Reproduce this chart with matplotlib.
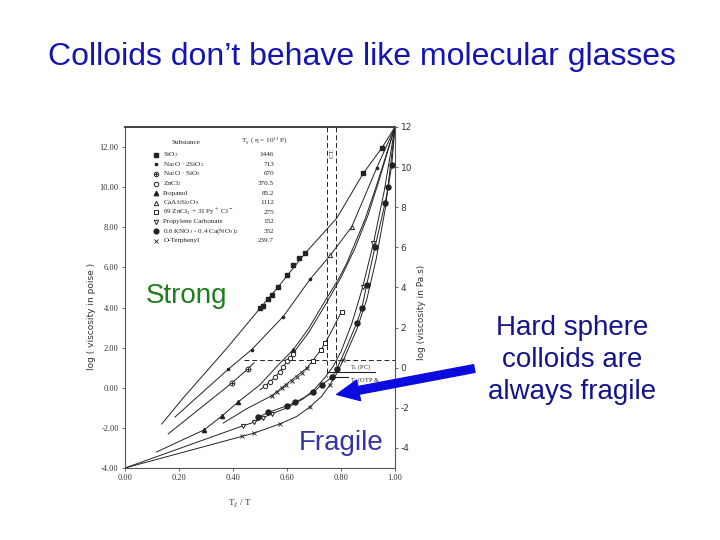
"""
Angell-plot slide: colloids vs molecular glasses (strong / fragile).
Writes out.png (720x540).
"""

import matplotlib.pyplot as plt
from matplotlib.patches import FancyArrowPatch

plt.rcParams["mathtext.fontset"] = "stix"

# ---- data: x = Tg/T, y = log10(viscosity / poise) ----
SIO2_LINE_X = [0.136, 0.216, 0.377, 0.50, 0.568, 0.667, 0.784, 0.883, 0.951, 1.0]
SIO2_LINE_Y = [-1.81, -0.5, 1.97, 3.96, 5.04, 6.7, 8.45, 10.7, 11.95, 13.0]
SIO2_PTS_X = [0.50, 0.512, 0.531, 0.543, 0.568, 0.60, 0.623, 0.646, 0.667, 0.883, 0.951]
SIO2_PTS_Y = [3.96, 4.08, 4.41, 4.63, 5.04, 5.6, 6.12, 6.45, 6.7, 10.7, 11.95]

NS2_LINE_X = [0.185, 0.383, 0.469, 0.586, 0.685, 0.76, 0.84, 0.932, 1.0]
NS2_LINE_Y = [-1.46, 0.93, 1.9, 3.55, 5.4, 6.6, 8.03, 10.95, 13.0]
NS2_PTS_X = [0.383, 0.469, 0.586, 0.685, 0.932]
NS2_PTS_Y = [0.93, 1.9, 3.55, 5.4, 10.95]
CAS_PTS_X = [0.76, 0.84]
CAS_PTS_Y = [6.6, 8.03]

NS_LINE_X = [0.16, 0.395, 0.454, 0.478]
NS_LINE_Y = [-2.3, 0.23, 0.93, 1.25]
NS_PTS_X = [0.395, 0.454]
NS_PTS_Y = [0.23, 0.93]

PROP_LINE_X = [0.117, 0.293, 0.358, 0.42, 0.50, 0.568, 0.623, 0.68, 0.735, 0.79, 0.821, 0.889, 0.932, 1.0]
PROP_LINE_Y = [-3.2, -2.1, -1.42, -0.7, 0.15, 1.14, 1.9, 2.95, 4.2, 5.4, 6.2, 8.4, 10.1, 13.0]
PROP_PTS_X = [0.293, 0.358, 0.42, 0.623]
PROP_PTS_Y = [-2.1, -1.42, -0.7, 1.9]

ZNCL_LINE_X = [0.50, 0.519, 0.537, 0.556, 0.574, 0.586, 0.601, 0.611, 0.621, 0.68, 0.745, 0.80, 0.85, 0.90, 0.94, 1.0]
ZNCL_LINE_Y = [-0.1, 0.07, 0.31, 0.53, 0.81, 1.06, 1.31, 1.47, 1.69, 2.75, 4.2, 5.5, 6.9, 8.6, 10.3, 13.0]
ZNCL_PTS_X = [0.519, 0.537, 0.556, 0.574, 0.586, 0.601, 0.611, 0.621]
ZNCL_PTS_Y = [0.07, 0.31, 0.53, 0.81, 1.06, 1.31, 1.47, 1.69]

ZNPY_LINE_X = [0.364, 0.45, 0.543, 0.673, 0.695, 0.725, 0.741, 0.77, 0.802]
ZNPY_LINE_Y = [-1.76, -1.05, -0.4, 0.98, 1.34, 1.89, 2.22, 2.95, 3.8]
ZNPY_X_PTS_X = [0.543, 0.562, 0.58, 0.598, 0.617, 0.636, 0.655, 0.673]
ZNPY_X_PTS_Y = [-0.4, -0.22, -0.03, 0.15, 0.35, 0.55, 0.76, 0.98]
ZNPY_SQ_PTS_X = [0.695, 0.725, 0.741, 0.802]
ZNPY_SQ_PTS_Y = [1.34, 1.89, 2.22, 3.8]

PC_LINE_X = [0.0, 0.438, 0.478, 0.51, 0.543, 0.60, 0.66, 0.70, 0.74, 0.77, 0.80, 0.84, 0.88, 0.92, 0.96, 1.0]
PC_LINE_Y = [-4.0, -1.89, -1.72, -1.5, -1.3, -1.0, -0.55, -0.1, 0.5, 1.05, 1.8, 3.2, 5.0, 7.2, 9.8, 13.0]
PC_PTS_X = [0.438, 0.478, 0.51, 0.543, 0.88, 0.92]
PC_PTS_Y = [-1.89, -1.72, -1.5, -1.3, 5.0, 7.2]

KNO_LINE_X = [0.494, 0.531, 0.599, 0.63, 0.698, 0.728, 0.768, 0.784, 0.82, 0.858, 0.877, 0.895, 0.926, 0.963, 0.975, 0.988, 1.0]
KNO_LINE_Y = [-1.46, -1.23, -0.9, -0.73, -0.23, 0.15, 0.53, 0.93, 2.0, 3.22, 3.96, 5.12, 7.03, 9.19, 10.0, 11.1, 13.0]
KNO_PTS_X = [0.494, 0.531, 0.599, 0.63, 0.698, 0.728, 0.768, 0.784, 0.858, 0.877, 0.895, 0.926, 0.963, 0.975, 0.988]
KNO_PTS_Y = [-1.46, -1.23, -0.9, -0.73, -0.23, 0.15, 0.53, 0.93, 3.22, 3.96, 5.12, 7.03, 9.19, 10.0, 11.1]

OTP_LINE_X = [0.0, 0.434, 0.478, 0.574, 0.636, 0.685, 0.728, 0.759, 0.778, 0.809, 0.858, 0.895, 0.93, 0.965, 1.0]
OTP_LINE_Y = [-4.0, -2.42, -2.26, -1.8, -1.43, -0.95, -0.43, 0.15, 0.56, 1.39, 2.89, 4.38, 6.4, 9.0, 13.0]
OTP_PTS_X = [0.434, 0.478, 0.574, 0.685, 0.759, 0.809]
OTP_PTS_Y = [-2.42, -2.26, -1.8, -0.95, 0.15, 1.39]

LEGEND_NAMES = [
    "SiO$_2$", "Na$_2$O · 2SiO$_2$", "Na$_2$O · SiO$_2$", "ZnCl$_2$", "Propanol",
    "CaAl$_2$Si$_2$O$_8$", "69 ZnCl$_2$ + 31 Py$^+$ Cl$^-$", "Propylene Carbonate",
    "0.6 KNO$_3$ - 0.4 Ca(NO$_3$)$_2$", "O-Terphenyl",
]
LEGEND_TG = ["1446", "713", "670", "370.5", "85.2", "1112", "275", "152", "332", "239.7"]

INK = "#222222"
W, H = 720, 540


def fx(px):
    return px / W


def fy(py):
    return 1 - py / H


def curve(ax, lx, ly, px=None, py=None, **mk):
    ax.plot(lx, ly, color=INK, lw=0.7, zorder=2)
    if px is not None:
        ax.plot(px, py, linestyle="none", zorder=3, **mk)


def main() -> None:
    fig = plt.figure(figsize=(7.2, 5.4), dpi=100)
    fig.patch.set_facecolor("white")

    ax = fig.add_axes([fx(125), fy(468), fx(395) - fx(125), fy(127) - fy(468)])
    ax.set_xlim(0, 1.0)
    ax.set_ylim(-4, 13)

    filled = dict(color=INK, markeredgecolor=INK)
    hollow = dict(markerfacecolor="white", markeredgecolor=INK, markeredgewidth=0.7)

    curve(ax, SIO2_LINE_X, SIO2_LINE_Y, SIO2_PTS_X, SIO2_PTS_Y, marker="s", ms=3.5, **filled)
    curve(ax, NS2_LINE_X, NS2_LINE_Y, NS2_PTS_X, NS2_PTS_Y, marker="o", ms=1.6, **filled)
    ax.plot(CAS_PTS_X, CAS_PTS_Y, linestyle="none", marker="^", ms=3, zorder=3, **hollow)
    curve(ax, NS_LINE_X, NS_LINE_Y)
    ax.plot(NS_PTS_X, NS_PTS_Y, linestyle="none", marker="o", ms=3.5, zorder=3, **hollow)
    ax.plot(NS_PTS_X, NS_PTS_Y, linestyle="none", marker="+", ms=3.5, mew=0.7, color=INK, zorder=4)
    curve(ax, PROP_LINE_X, PROP_LINE_Y, PROP_PTS_X, PROP_PTS_Y, marker="^", ms=3, **filled)
    curve(ax, ZNCL_LINE_X, ZNCL_LINE_Y, ZNCL_PTS_X, ZNCL_PTS_Y, marker="o", ms=3.2, **hollow)
    curve(ax, ZNPY_LINE_X, ZNPY_LINE_Y, ZNPY_X_PTS_X, ZNPY_X_PTS_Y, marker="x", ms=3, mew=0.7, color=INK)
    ax.plot(ZNPY_SQ_PTS_X, ZNPY_SQ_PTS_Y, linestyle="none", marker="s", ms=3.2, zorder=3, **hollow)
    curve(ax, PC_LINE_X, PC_LINE_Y, PC_PTS_X, PC_PTS_Y, marker="v", ms=3, **hollow)
    curve(ax, KNO_LINE_X, KNO_LINE_Y, KNO_PTS_X, KNO_PTS_Y, marker="o", ms=3.6, **filled)
    curve(ax, OTP_LINE_X, OTP_LINE_Y, OTP_PTS_X, OTP_PTS_Y, marker="x", ms=2.2, mew=0.6, color=INK)

    # dashed guide lines and crystallisation markers
    dash = dict(color=INK, lw=0.7, linestyle=(0, (5, 3)), zorder=1)
    ax.plot([0.44, 1.0], [1.36, 1.36], **dash)
    ax.plot([0.748, 0.748], [13.0, 0.55], **dash)
    ax.plot([0.781, 0.781], [13.0, 0.8], **dash)
    ax.plot([0.748, 0.926], [0.81, 0.81], color=INK, lw=0.8)
    ax.plot([0.765, 0.827], [0.53, 0.53], color=INK, lw=0.8)
    ax.text(0.835, 0.95, "T$_x$ (PC)", fontsize=4.5, family="Liberation Serif", color=INK)
    ax.text(0.835, 0.3, "T$_x$ (OTP &", fontsize=4.5, family="Liberation Serif", color=INK)
    ax.text(0.766, 11.7, "C.T.", fontsize=4.5, rotation=90, ha="center", va="center",
            family="Liberation Serif", color=INK)

    # legend table drawn as text
    serif = dict(family="Liberation Serif", fontsize=5.1, color=INK, va="center")
    ax.text(0.173, 0.955, "Substance", transform=ax.transAxes, **serif)
    ax.text(0.43, 0.958, "T$_g$ ( η = 10$^{13}$ P)", transform=ax.transAxes, **serif)
    markers = [
        dict(marker="s", ms=3.2, **filled),
        dict(marker="o", ms=1.6, **filled),
        dict(marker="o", ms=3.2, **hollow),
        dict(marker="o", ms=3.2, **hollow),
        dict(marker="^", ms=3.2, **filled),
        dict(marker="^", ms=3.2, **hollow),
        dict(marker="s", ms=3.2, **hollow),
        dict(marker="v", ms=3.2, **hollow),
        dict(marker="o", ms=3.4, **filled),
        dict(marker="x", ms=2.4, mew=0.6, color=INK),
    ]
    for i, (name, tg) in enumerate(zip(LEGEND_NAMES, LEGEND_TG)):
        yy = 0.918 - i * 0.0279
        ax.plot([0.115], [yy], transform=ax.transAxes, linestyle="none", **markers[i])
        if i == 2:
            ax.plot([0.115], [yy], transform=ax.transAxes, marker="+", ms=3.2, mew=0.6, color=INK)
        ax.text(0.142, yy, name, transform=ax.transAxes, **serif)
        ax.text(0.552, yy, tg, transform=ax.transAxes, ha="right", **serif)

    # axes styling
    for side in ["left", "bottom", "right"]:
        ax.spines[side].set_color("#555555")
        ax.spines[side].set_linewidth(0.8)
    ax.spines["top"].set_color("#333333")
    ax.spines["top"].set_linewidth(1.3)

    xt = [0.0, 0.2, 0.4, 0.6, 0.8, 1.0]
    yt = [-4, -2, 0, 2, 4, 6, 8, 10, 12]
    ax.set_xticks(xt)
    ax.set_xticklabels([f"{v:.2f}" for v in xt])
    ax.set_yticks(yt)
    ax.set_yticklabels([f"{v:.2f}" for v in yt])
    ax.tick_params(length=2.5, width=0.6, color="#555555", labelsize=6,
                   labelcolor="#333333", pad=2)
    for lab in ax.get_xticklabels() + ax.get_yticklabels():
        lab.set_family("Liberation Serif")

    ax2 = ax.twinx()
    ax2.set_ylim(-5, 12)
    ax2.set_yticks(yt)
    ax2.set_yticklabels([str(v) for v in yt])
    ax2.tick_params(length=2.5, width=0.6, color="#555555", labelsize=6.5,
                    labelcolor="#333333", pad=1.5)
    for s in ax2.spines.values():
        s.set_visible(False)

    lab = dict(fontsize=6.5, color="#333333", family="DejaVu Sans")
    fig.text(fx(92), fy(316), "log ( viscosity in poise )", rotation=90,
             ha="center", va="center", **lab)
    fig.text(fx(421), fy(312), "log (viscosity in Pa.s)", rotation=90,
             ha="center", va="center", **lab)
    fig.text(fx(240), fy(503), "T$_g$ / T", ha="center", va="center",
             fontsize=6.5, color="#333333", family="Liberation Serif")

    # slide text
    sans = "Liberation Sans"
    fig.text(fx(362), fy(57), "Colloids don\u2019t behave like molecular glasses",
             ha="center", va="center", fontsize=23, color="#1414b4", family=sans)
    fig.text(fx(187), fy(296), "Strong", ha="center", va="center",
             fontsize=20, color="#1e7d1e", family=sans)
    fig.text(fx(341), fy(443), "Fragile", ha="center", va="center",
             fontsize=20, color="#3434a4", family=sans)
    fig.text(fx(572), fy(360), "Hard sphere\ncolloids are\nalways fragile",
             ha="center", va="center", fontsize=20, color="#14148c",
             family=sans, linespacing=1.3)

    arrow = FancyArrowPatch(
        (fx(477), fy(368)), (fx(334), fy(395)), transform=fig.transFigure,
        arrowstyle="simple,head_width=0.75,head_length=0.8,tail_width=0.28",
        mutation_scale=20, color="#0b0be0", zorder=10,
    )
    fig.add_artist(arrow)

    fig.savefig("out.png", dpi=100, facecolor="white")


if __name__ == "__main__":
    main()
